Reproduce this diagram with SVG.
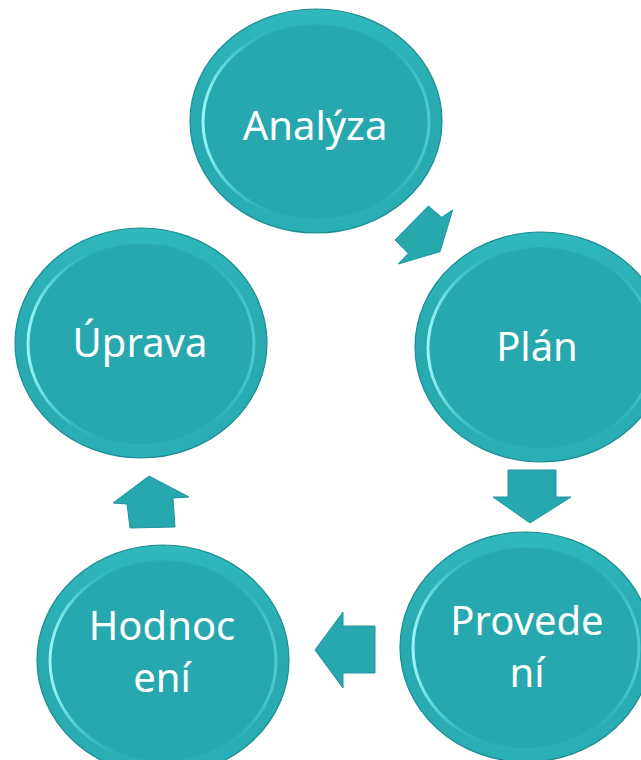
<svg xmlns="http://www.w3.org/2000/svg" width="641" height="760" viewBox="0 0 641 760">
  <defs>
    <linearGradient id="rim" x1="0" y1="0" x2="0" y2="1">
      <stop offset="0" stop-color="#30B8BD"/>
      <stop offset="0.5" stop-color="#27A9AE"/>
      <stop offset="1" stop-color="#2AAFB4"/>
    </linearGradient>
    <linearGradient id="hl" x1="0" y1="0" x2="1" y2="0">
      <stop offset="0" stop-color="#9AF5F7" stop-opacity="1"/>
      <stop offset="0.12" stop-color="#5ED8DC" stop-opacity="0.75"/>
      <stop offset="0.3" stop-color="#35B9BE" stop-opacity="0.25"/>
      <stop offset="0.8" stop-color="#35B9BE" stop-opacity="0.25"/>
      <stop offset="1" stop-color="#5FD9DD" stop-opacity="0.7"/>
    </linearGradient>
    <style>
      .outer { fill: url(#rim); stroke: #1B8C91; stroke-width: 1.2; }
      .inner { fill: #26A8AE; stroke: url(#hl); stroke-width: 3; }
      .arrow { fill: #26A8AE; stroke: #1E959A; stroke-width: 1; stroke-linejoin: miter; }
      .lbl { font-family: "Noto Sans", "Open Sans", "Liberation Sans", sans-serif; font-size: 40px; fill: #FFFFFF; text-anchor: middle; }
    </style>
  </defs>

  <g id="connectors">
    <polygon class="arrow" points="395,240 428.3,206 441.7,217.3 452.7,210 440,251.7 398.3,264 408.3,253.3"/>
    <polygon class="arrow" points="508,470 556,470 556,497 571,497 530,523 493,497 508,497"/>
    <polygon class="arrow" points="375,626 343,626 343,612 315,650 343,688 343,673 375,673"/>
    <polygon class="arrow" points="149,476 189,497 173,498 175,527 130,528 127,504 113,503"/>
  </g>

  <g id="node-analyza">
    <ellipse class="outer" cx="316" cy="121" rx="126" ry="112"/>
    <ellipse class="inner" cx="316" cy="122" rx="113" ry="98"/>
    <text class="lbl" x="315" y="140">Analýza</text>
  </g>

  <g id="node-plan">
    <ellipse class="outer" cx="541" cy="347" rx="126" ry="115"/>
    <ellipse class="inner" cx="541" cy="348" rx="113" ry="101"/>
    <text class="lbl" x="537" y="361">Plán</text>
  </g>

  <g id="node-provedeni">
    <ellipse class="outer" cx="526" cy="647" rx="126" ry="115"/>
    <ellipse class="inner" cx="526" cy="648" rx="113" ry="101"/>
    <text class="lbl" x="527" y="635">Provede</text>
    <text class="lbl" x="527" y="687">ní</text>
  </g>

  <g id="node-hodnoceni">
    <ellipse class="outer" cx="163" cy="660" rx="126" ry="115"/>
    <ellipse class="inner" cx="163" cy="661" rx="113" ry="101"/>
    <text class="lbl" x="162" y="640">Hodnoc</text>
    <text class="lbl" x="162" y="692">ení</text>
  </g>

  <g id="node-uprava">
    <ellipse class="outer" cx="141" cy="343" rx="126" ry="115"/>
    <ellipse class="inner" cx="141" cy="344" rx="113" ry="101"/>
    <text class="lbl" x="140" y="357">Úprava</text>
  </g>
</svg>
